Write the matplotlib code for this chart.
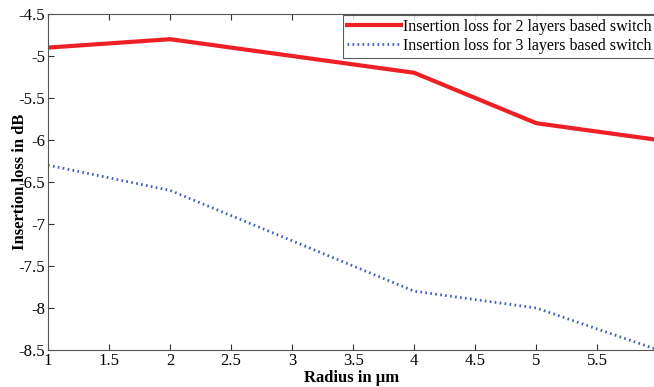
import matplotlib
matplotlib.use("Agg")
import matplotlib.pyplot as plt

radius = [1, 2, 4, 5, 6]
loss_2layers = [-4.9, -4.8, -5.2, -5.8, -6.0]
loss_3layers = [-6.3, -6.6, -7.8, -8.0, -8.5]
xticks = [1, 1.5, 2, 2.5, 3, 3.5, 4, 4.5, 5, 5.5]
yticks = [-8.5, -8, -7.5, -7, -6.5, -6, -5.5, -5, -4.5]

plt.rcParams['font.family'] = ['Liberation Serif', 'DejaVu Serif']

fig = plt.figure(figsize=(6.54, 3.87), dpi=100)
ax = fig.add_axes([48/654, 1-350/387, 1-48/654 + 0.003, (350-14)/387])

ax.plot(radius, loss_2layers, color='#ee2026', lw=3, label='Insertion loss for 2 layers based switch')
ax.plot(radius, loss_3layers, color='#3f5fbf', lw=2, linestyle=(0, (0.6, 1.2)),
        label='Insertion loss for 3 layers based switch')

ax.set_xlim(1, 5.98)
ax.set_ylim(-8.5, -4.5)
ax.set_xticks(xticks)
ax.set_xticklabels([f'{t:g}' for t in xticks])
ax.set_yticks(yticks)
ax.set_yticklabels([f'{t:g}' for t in yticks])
ax.tick_params(direction='in', labelsize=12, top=True, right=False, length=4, width=0.8,
               colors='#333333', pad=2)
ax.tick_params(axis='both', labelcolor='black')
for s in ['left', 'bottom', 'top']:
    ax.spines[s].set_color('#555555')
    ax.spines[s].set_linewidth(0.8)
ax.spines['right'].set_visible(False)

ax.set_xlabel('Radius in μm', fontsize=12, fontweight='bold', labelpad=1)
ax.set_ylabel('Insertion loss in dB', fontsize=12, fontweight='bold')
ax.yaxis.set_label_coords(-0.033, 0.5)

leg = ax.legend(loc='upper right', fontsize=11.5, frameon=True, fancybox=False,
                edgecolor='#333333', borderpad=0.25, handlelength=3.4, handletextpad=0.1,
                labelspacing=0.2, borderaxespad=0.05)
leg.get_frame().set_linewidth(0.8)

fig.savefig('out.png', dpi=100)
